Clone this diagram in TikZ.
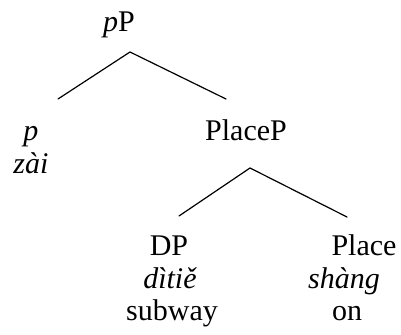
\documentclass[tikz,border=0pt]{standalone}
\usepackage{fontspec}
\setmainfont{Liberation Serif}
\begin{document}
\begin{tikzpicture}[x=0.5pt,y=-0.5pt,
  word/.style={anchor=base,inner sep=0pt,outer sep=0pt,font=\fontsize{15}{17}\selectfont},
  branch/.style={line width=0.6pt,line cap=round}]
\useasboundingbox (0,0) rectangle (401,335);

% labels
\node[word] (pP) at (119,32) {\textit{p}P};
\node[word] (p) at (31,141) {\textit{p}};
\node[word] (zai) at (31,174) {\textit{zài}};
\node[word] (PlaceP) at (246,141) {PlaceP};
\node[word] (DP) at (169,256) {DP};
\node[word] (diti) at (170,289) {\textit{dìtiě}};
\node[word] (subway) at (172,321) {subway};
\node[word] (Place) at (364,256) {Place};
\node[word] (shang) at (344,289) {\textit{shàng}};
\node[word] (on) at (347,321) {on};

% branch points
\coordinate (pP-top) at (130,52);
\coordinate (pP-left) at (58,99);
\coordinate (pP-right) at (226,99);
\coordinate (PlaceP-top) at (250,168);
\coordinate (PlaceP-left) at (179,216);
\coordinate (PlaceP-right) at (347,217);

\draw[branch] (pP-left) -- (pP-top) -- (pP-right);
\draw[branch] (PlaceP-left) -- (PlaceP-top) -- (PlaceP-right);
\end{tikzpicture}
\end{document}
